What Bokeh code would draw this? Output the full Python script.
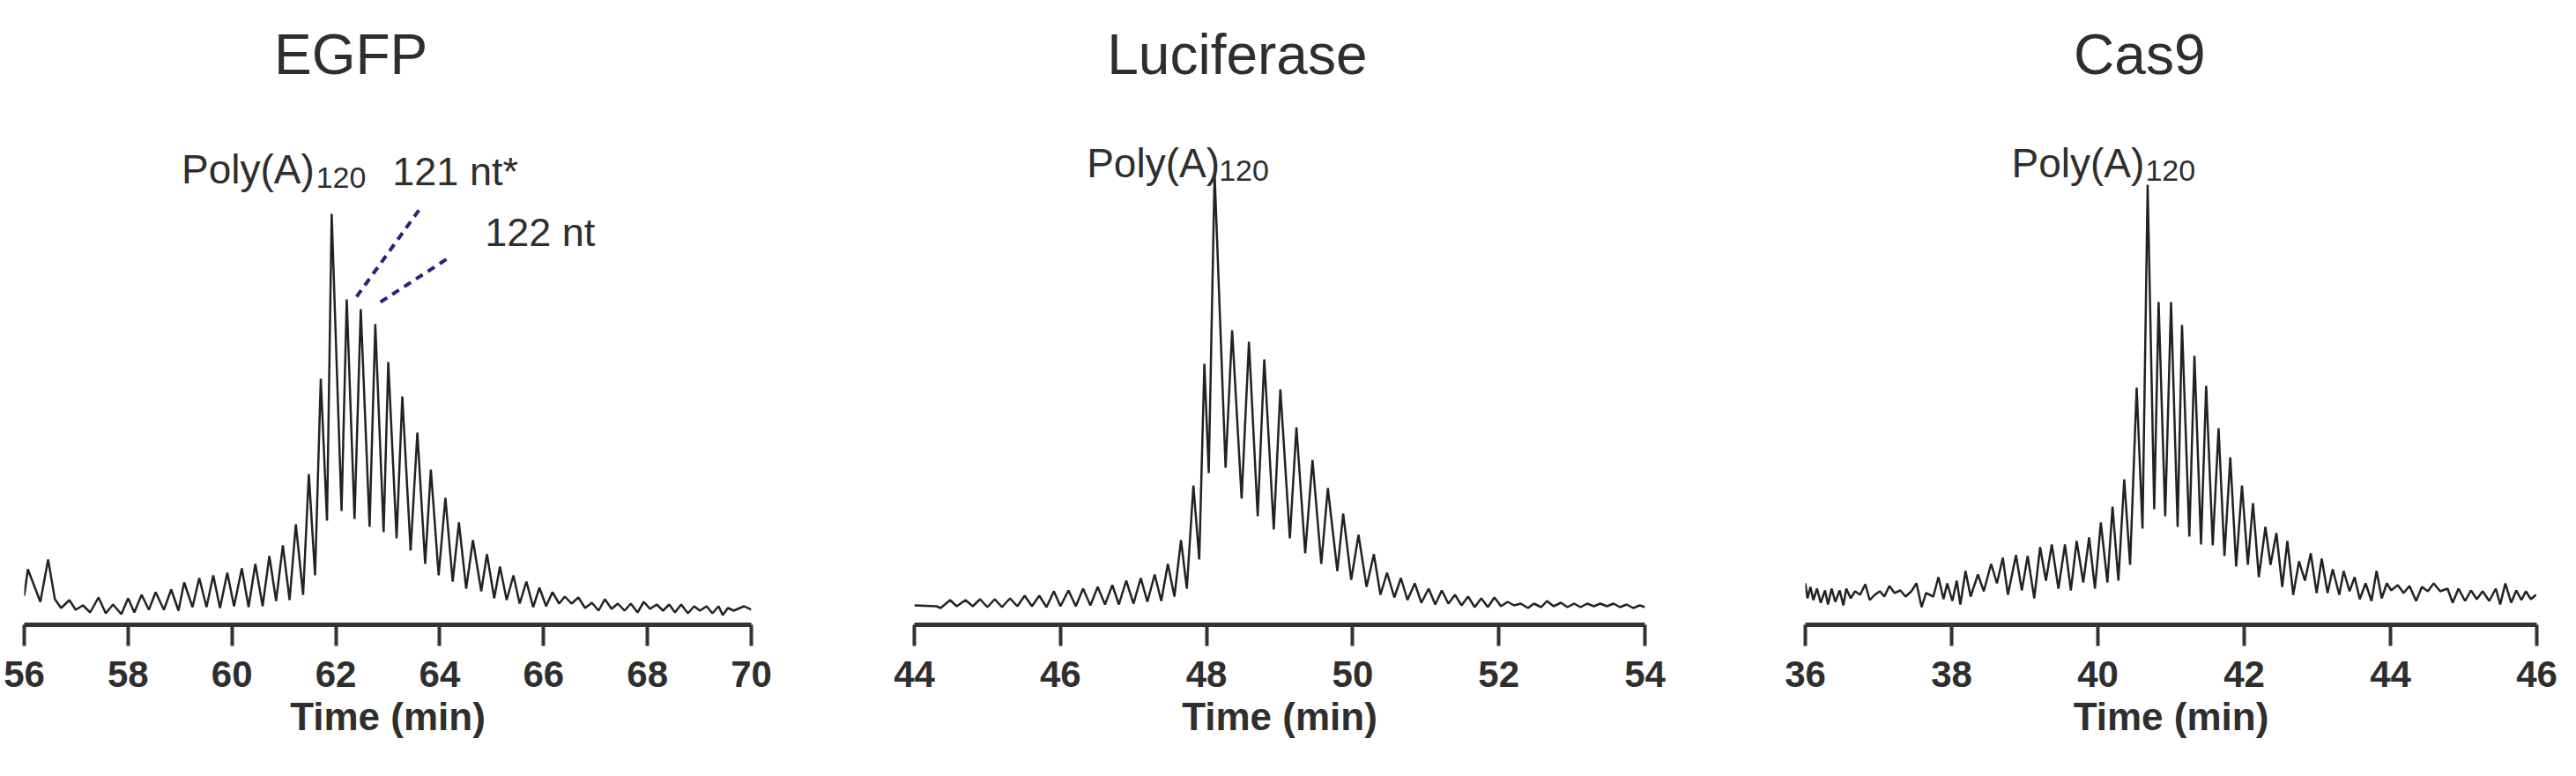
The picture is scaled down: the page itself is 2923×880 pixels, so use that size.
from bokeh.plotting import figure
from bokeh.layouts import row
from bokeh.models import Range1d, FixedTicker
from bokeh.core.properties import value
from bokeh.embed import file_html
from bokeh.resources import INLINE

# ---------------- data (time in min, signal in arbitrary units) ----------------
egfp_time = [56.00, 56.07, 56.31, 56.46, 56.59, 56.71, 56.87, 56.99, 57.13, 57.27,
             57.43, 57.57, 57.71, 57.87, 58.00, 58.12, 58.26, 58.40, 58.53, 58.69,
             58.83, 58.97, 59.08, 59.24, 59.37, 59.51, 59.64, 59.77, 59.91, 60.04,
             60.19, 60.32, 60.45, 60.59, 60.72, 60.85, 60.98, 61.11, 61.23, 61.37,
             61.48, 61.60, 61.71, 61.83, 61.92, 62.11, 62.21, 62.36, 62.48, 62.65,
             62.76, 62.92, 63.01, 63.17, 63.28, 63.44, 63.57, 63.72, 63.83, 63.98,
             64.11, 64.25, 64.37, 64.51, 64.64, 64.80, 64.91, 65.05, 65.16, 65.29,
             65.42, 65.54, 65.67, 65.80, 65.92, 66.05, 66.17, 66.30, 66.41, 66.54,
             66.67, 66.80, 66.93, 67.06, 67.18, 67.31, 67.43, 67.56, 67.68, 67.81,
             67.93, 68.05, 68.18, 68.30, 68.42, 68.53, 68.65, 68.78, 68.90, 69.01,
             69.14, 69.25, 69.37, 69.45, 69.55, 69.66, 69.86, 70.00]
egfp_signal = [33, 63, 26, 74, 29, 19, 28, 17, 22, 14,
               31, 13, 23, 12, 30, 14, 34, 17, 37, 17,
               40, 16, 48, 20, 53, 20, 56, 19, 59, 21,
               64, 20, 69, 21, 78, 27, 90, 28, 114, 34,
               171, 56, 279, 118, 466, 129, 369, 120, 358, 111,
               341, 105, 298, 98, 259, 84, 218, 69, 176, 56,
               144, 49, 116, 41, 96, 38, 80, 30, 66, 28,
               56, 24, 49, 20, 42, 21, 37, 24, 32, 24,
               31, 19, 25, 16, 29, 18, 24, 16, 24, 14,
               26, 18, 23, 16, 23, 14, 23, 13, 21, 16,
               21, 13, 21, 11, 19, 16, 21, 17]

luc_time = [44.00, 44.30, 44.36, 44.49, 44.58, 44.70, 44.80, 44.90, 45.00, 45.10,
            45.20, 45.31, 45.41, 45.51, 45.61, 45.71, 45.81, 45.91, 46.00, 46.11,
            46.21, 46.31, 46.41, 46.51, 46.61, 46.71, 46.80, 46.90, 47.00, 47.10,
            47.19, 47.29, 47.38, 47.47, 47.56, 47.65, 47.73, 47.82, 47.90, 47.97,
            48.03, 48.11, 48.26, 48.35, 48.48, 48.58, 48.70, 48.79, 48.92, 49.01,
            49.14, 49.23, 49.35, 49.45, 49.57, 49.66, 49.79, 49.87, 49.98, 50.08,
            50.19, 50.29, 50.38, 50.47, 50.57, 50.66, 50.75, 50.85, 50.94, 51.04,
            51.13, 51.22, 51.31, 51.40, 51.49, 51.58, 51.67, 51.76, 51.85, 51.94,
            52.03, 52.12, 52.21, 52.30, 52.40, 52.48, 52.58, 52.66, 52.75, 52.85,
            52.94, 53.03, 53.12, 53.21, 53.30, 53.39, 53.48, 53.57, 53.66, 53.75,
            53.84, 53.93, 54.00]
luc_signal = [22, 21, 19, 28, 21, 28, 21, 29, 20, 29,
              20, 30, 21, 33, 21, 33, 20, 38, 21, 39,
              21, 41, 22, 43, 23, 45, 23, 50, 24, 53,
              26, 57, 27, 69, 32, 96, 41, 158, 74, 296,
              172, 512, 178, 334, 143, 321, 123, 301, 108, 267,
              98, 224, 81, 187, 69, 155, 61, 126, 51, 102,
              43, 80, 34, 59, 31, 53, 28, 47, 25, 41,
              23, 39, 24, 34, 22, 32, 20, 30, 20, 31,
              21, 26, 22, 24, 19, 24, 20, 27, 21, 25,
              20, 24, 20, 24, 21, 24, 21, 24, 20, 23,
              19, 22, 20]

cas9_time = [36.00, 36.03, 36.07, 36.11, 36.16, 36.21, 36.27, 36.31, 36.36, 36.41,
             36.47, 36.52, 36.56, 36.62, 36.68, 36.75, 36.82, 36.88, 36.95, 37.02,
             37.08, 37.15, 37.22, 37.30, 37.37, 37.45, 37.52, 37.59, 37.65, 37.75,
             37.82, 37.89, 37.94, 38.01, 38.07, 38.12, 38.19, 38.26, 38.36, 38.44,
             38.54, 38.62, 38.70, 38.77, 38.88, 38.96, 39.04, 39.13, 39.21, 39.29,
             39.37, 39.46, 39.55, 39.63, 39.71, 39.80, 39.88, 39.96, 40.04, 40.13,
             40.20, 40.28, 40.36, 40.44, 40.53, 40.61, 40.68, 40.77, 40.83, 40.92,
             41.00, 41.09, 41.15, 41.25, 41.32, 41.41, 41.48, 41.57, 41.65, 41.73,
             41.81, 41.89, 41.97, 42.05, 42.12, 42.20, 42.29, 42.36, 42.44, 42.52,
             42.59, 42.67, 42.75, 42.83, 42.91, 42.99, 43.06, 43.14, 43.21, 43.30,
             43.36, 43.44, 43.51, 43.58, 43.66, 43.74, 43.81, 43.88, 43.95, 44.01,
             44.10, 44.18, 44.26, 44.35, 44.43, 44.51, 44.59, 44.68, 44.78, 44.85,
             44.93, 45.02, 45.10, 45.18, 45.26, 45.35, 45.44, 45.50, 45.57, 45.65,
             45.72, 45.79, 45.85, 45.92, 45.99]
cas9_signal = [47, 30, 43, 28, 41, 25, 39, 23, 41, 26,
               39, 22, 41, 30, 38, 34, 46, 28, 34, 38,
               32, 44, 36, 39, 32, 38, 47, 20, 36, 32,
               54, 29, 47, 27, 50, 23, 61, 32, 57, 38,
               69, 47, 76, 34, 79, 39, 78, 30, 88, 50,
               91, 41, 91, 39, 95, 48, 99, 41, 116, 48,
               134, 50, 165, 68, 269, 109, 499, 131, 366, 123,
               366, 111, 340, 100, 305, 91, 271, 90, 223, 78,
               190, 66, 158, 68, 138, 54, 111, 68, 104, 43,
               95, 34, 72, 50, 81, 36, 75, 36, 63, 34,
               61, 38, 54, 29, 47, 27, 61, 30, 47, 39,
               45, 36, 44, 27, 43, 38, 47, 38, 41, 25,
               41, 27, 39, 29, 38, 27, 41, 23, 47, 25,
               39, 28, 38, 29, 34]

egfp_ticks = [56, 58, 60, 62, 64, 66, 68, 70]
luc_ticks = [44, 46, 48, 50, 52, 54]
cas9_ticks = [36, 38, 40, 42, 44, 46]

# dashed pointer lines for the EGFP 121/122 nt peaks
pointer_x = [[62.40, 63.61], [62.86, 64.17]]
pointer_y = [[372, 471], [366, 416]]

FONT = "Liberation Sans"
TXT = "#2e2e2e"
TOP = 706


def panel(title, t, s, xr, ticks, width, left, right, title_x, poly_x, sub_x):
    p = figure(width=width, height=864, x_range=Range1d(*xr), y_range=Range1d(0, TOP),
               output_backend="svg", toolbar_location=None, y_axis_location=None,
               min_border_left=left, min_border_right=right, min_border_top=2,
               min_border_bottom=156)
    p.outline_line_color = None
    p.grid.visible = False
    p.background_fill_color = "white"
    p.border_fill_color = "white"

    p.line(t, s, line_color="#222222", line_width=2.5)

    ax = p.xaxis[0]
    ax.ticker = FixedTicker(ticks=ticks)
    ax.axis_line_width = 5
    ax.axis_line_color = "#333333"
    ax.major_tick_line_width = 4
    ax.major_tick_line_color = "#333333"
    ax.major_tick_in = 0
    ax.major_tick_out = 24
    ax.minor_tick_line_color = None
    ax.major_label_text_font = FONT
    ax.major_label_text_font_style = "bold"
    ax.major_label_text_font_size = "42px"
    ax.major_label_text_color = TXT
    ax.major_label_standoff = 17
    ax.axis_label = "Time (min)"
    ax.axis_label_text_font = FONT
    ax.axis_label_text_font_style = "bold"
    ax.axis_label_text_font_size = "44px"
    ax.axis_label_text_color = TXT
    ax.axis_label_standoff = 6

    p.text(x=[title_x], y=[647], text=[title], text_font=value(FONT),
           text_font_size="64px", text_color=TXT, text_align="center",
           text_baseline="alphabetic")
    p.text(x=[poly_x[0]], y=[poly_x[1]], text=["Poly(A)"], text_font=value(FONT),
           text_font_size="46px", text_color=TXT, text_align="left",
           text_baseline="alphabetic")
    p.text(x=[sub_x[0]], y=[sub_x[1]], text=["120"], text_font=value(FONT),
           text_font_size="34px", text_color=TXT, text_align="left",
           text_baseline="alphabetic")
    return p


p1 = panel("EGFP", egfp_time, egfp_signal, (56, 70), egfp_ticks, 942, 27, 90,
           62.29, (59.03, 517), (61.62, 507))
p1.text(x=[63.09, 64.87], y=[514, 445], text=["121 nt*", "122 nt"], text_font=value(FONT),
        text_font_size="45px", text_color=TXT, text_align="left", text_baseline="alphabetic")
p1.multi_line(pointer_x, pointer_y, line_color="#25257a", line_width=4, line_dash="9 7")

p2 = panel("Luciferase", luc_time, luc_signal, (44, 54), luc_ticks, 1010, 95, 86,
           48.42, (46.36, 524), (48.17, 515))
p3 = panel("Cas9", cas9_time, cas9_signal, (36, 46), cas9_ticks, 955, 96, 29,
           40.57, (38.82, 524), (40.65, 515))

layout = row(p1, p2, p3, spacing=0)
open("out.html", "w").write(file_html(layout, INLINE))
